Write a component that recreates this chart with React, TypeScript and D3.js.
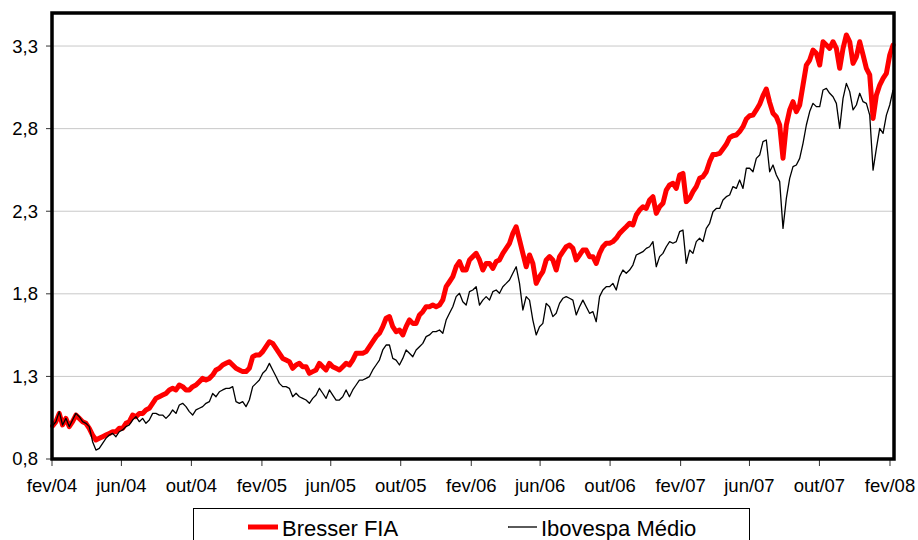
import React from "react";
import * as d3 from "d3";

// Sampling: one reading every ~5.8 days, starting 2 Feb 2004
const startDate = new Date(2004, 1, 2);
const stepDays = 5.815;

const bresserFIA = [
  1.00,1.026,1.076,1.006,1.046,0.996,1.026,1.066,1.046,1.026,
  1.016,0.986,0.945,0.915,0.925,0.935,0.945,0.955,0.965,0.965,
  0.986,0.986,1.016,1.026,1.066,1.056,1.076,1.076,1.097,1.107,
  1.137,1.167,1.177,1.187,1.197,1.218,1.228,1.218,1.248,1.238,
  1.218,1.218,1.238,1.248,1.268,1.288,1.278,1.288,1.308,1.339,
  1.349,1.369,1.379,1.389,1.369,1.349,1.339,1.329,1.329,1.349,
  1.419,1.429,
  1.430,1.450,1.480,1.510,1.500,1.470,1.440,1.409,1.399,1.389,
  1.349,1.369,1.379,1.359,1.359,1.319,1.329,1.339,1.379,1.359,
  1.339,1.379,1.359,1.349,1.339,1.359,1.379,1.369,1.399,1.440,
  1.440,1.440,1.450,1.480,1.510,1.541,1.561,1.601,1.652,1.662,
  1.601,1.571,1.581,1.551,1.601,1.642,1.621,1.621,1.672,1.692,
  1.722,1.722,1.732,1.722,1.732,1.763,1.843,1.873,1.904,1.964,
  1.995,1.944,1.944,
  2.005,2.025,2.045,2.005,1.944,1.984,1.984,1.954,1.995,2.005,
  2.045,2.075,2.106,2.166,2.206,2.126,2.045,1.964,2.035,1.984,
  1.863,1.904,1.934,2.005,2.025,2.005,1.944,2.025,2.055,2.085,
  2.095,2.075,2.005,2.035,2.065,2.065,2.025,2.025,1.984,2.045,
  2.085,2.106,2.106,2.116,2.136,2.166,2.186,2.206,2.227,2.217,
  2.277,2.307,2.327,2.317,2.368,2.388,2.287,2.327,2.348,2.428,
  2.459,2.469,2.438,
  2.519,2.529,2.358,2.378,2.418,2.449,2.499,2.509,2.539,2.600,
  2.644,2.644,2.650,2.677,2.705,2.745,2.757,2.761,2.782,2.812,
  2.858,2.878,2.882,2.913,2.947,3.000,3.040,2.959,2.893,2.872,
  2.822,2.620,2.822,2.913,2.963,2.903,2.943,3.064,3.185,3.215,
  3.276,3.256,3.185,3.326,3.306,3.286,3.326,3.286,3.165,3.286,
  3.367,3.326,3.195,3.235,3.326,3.246,3.165,3.125,2.862,3.003,
  3.064,3.104,3.135,3.246,3.306,
];

const ibovespaMedio = [
  1.00,1.026,1.087,1.006,1.046,0.996,1.036,1.076,1.056,1.026,
  1.016,0.996,0.905,0.854,0.864,0.895,0.925,0.945,0.955,0.935,
  0.965,0.976,0.996,1.006,1.036,1.056,1.026,1.046,1.016,1.036,
  1.076,1.076,1.066,1.066,1.046,1.066,1.097,1.076,1.127,1.137,
  1.117,1.087,1.066,1.097,1.107,1.117,1.137,1.147,1.197,1.177,
  1.207,1.218,1.228,1.228,1.238,1.147,1.137,1.147,1.117,1.157,
  1.238,1.258,
  1.278,1.319,1.339,1.379,1.339,1.299,1.258,1.238,1.238,1.228,
  1.177,1.198,1.177,1.167,1.157,1.137,1.167,1.187,1.228,1.198,
  1.167,1.218,1.187,1.157,1.157,1.177,1.218,1.177,1.218,1.248,
  1.278,1.278,1.288,1.299,1.339,1.369,1.399,1.460,1.490,1.490,
  1.409,1.399,1.369,1.409,1.460,1.440,1.419,1.460,1.480,1.500,
  1.541,1.551,1.571,1.571,1.581,1.561,1.641,1.682,1.722,1.783,
  1.803,1.752,1.732,
  1.813,1.823,1.843,1.732,1.762,1.783,1.762,1.813,1.823,1.803,
  1.843,1.863,1.884,1.924,1.964,1.863,1.702,1.783,1.762,1.641,
  1.551,1.601,1.621,1.742,1.722,1.662,1.682,1.742,1.773,1.783,
  1.773,1.762,1.672,1.722,1.762,1.722,1.682,1.692,1.631,1.783,
  1.823,1.843,1.843,1.863,1.823,1.904,1.944,1.924,1.944,1.974,
  2.035,2.045,2.055,2.075,2.085,2.116,1.964,2.025,2.045,2.085,
  2.116,2.106,2.116,
  2.176,2.186,1.984,2.065,2.045,2.116,2.136,2.116,2.196,2.227,
  2.297,2.317,2.317,2.368,2.388,2.398,2.449,2.438,2.489,2.438,
  2.560,2.560,2.539,2.620,2.640,2.721,2.731,2.539,2.580,2.519,
  2.479,2.196,2.378,2.499,2.570,2.580,2.620,2.711,2.822,2.903,
  2.953,2.933,2.933,3.034,3.044,3.014,2.993,2.953,2.802,2.983,
  3.074,3.024,2.913,2.943,3.014,2.963,2.953,2.882,2.549,2.681,
  2.802,2.771,2.882,2.943,3.034,
];

const yTicks = [0.8, 1.3, 1.8, 2.3, 2.8, 3.3];
const xTickDates = [
  "2004-02-01","2004-06-01","2004-10-01","2005-02-01","2005-06-01","2005-10-01",
  "2006-02-01","2006-06-01","2006-10-01","2007-02-01","2007-06-01","2007-10-01","2008-02-01",
];
const xTickLabels = [
  "fev/04","jun/04","out/04","fev/05","jun/05","out/05",
  "fev/06","jun/06","out/06","fev/07","jun/07","out/07","fev/08",
];
const seriesNames = ["Bresser FIA", "Ibovespa Médio"];

const parse = (s: string) => {
  const [y, m, d] = s.split("-").map(Number);
  return new Date(y, m - 1, d);
};

export default function App() {
  const W = 918, H = 540;
  const left = 52, right = 894, top = 13, bottom = 459;
  const x = d3.scaleTime()
    .domain([new Date(2004, 1, 1), new Date(2008, 1, 8)])
    .range([left, right]);
  const y = d3.scaleLinear().domain([0.8, 3.5]).range([bottom, top]);
  const dates = bresserFIA.map((_, i) => new Date(startDate.getTime() + i * stepDays * 86400000));
  const line = d3.line<number>()
    .x((_, i) => x(dates[i]))
    .y((v) => y(v));
  const fmt = (v: number) => v.toFixed(1).replace(".", ",");
  const font = "'Liberation Sans', Arial, sans-serif";

  return (
    <svg width={W} height={H} style={{ position: "fixed", left: 0, top: 0, background: "#fff" }} fontFamily={font}>
      <rect x={0} y={0} width={W} height={H} fill="#fff" />
      {yTicks.slice(1).map((t) => (
        <line key={t} x1={left} x2={right} y1={y(t)} y2={y(t)} stroke="#c8c8c8" strokeWidth={1} />
      ))}
      {yTicks.map((t) => (
        <g key={"yt" + t}>
          <line x1={left - 6} x2={left} y1={y(t)} y2={y(t)} stroke="#333" strokeWidth={1} />
          <text x={38} y={y(t)} dy="0.35em" textAnchor="end" fontSize={18.5} fill="#000">{fmt(t)}</text>
        </g>
      ))}
      {xTickDates.map((s, i) => {
        const xx = x(parse(s));
        return (
          <g key={s}>
            <line x1={xx} x2={xx} y1={bottom} y2={bottom + 7} stroke="#333" strokeWidth={1} />
            <text x={xx} y={492} textAnchor="middle" fontSize={18.5} fill="#000">{xTickLabels[i]}</text>
          </g>
        );
      })}
      <path d={line(bresserFIA) || ""} fill="none" stroke="#ff0000" strokeWidth={5} strokeLinejoin="round" strokeLinecap="round" />
      <path d={line(ibovespaMedio) || ""} fill="none" stroke="#000" strokeWidth={1.3} strokeLinejoin="round" />
      <rect x={left} y={top} width={right - left} height={bottom - top} fill="none" stroke="#000" strokeWidth={3.5} />
      <g>
        <rect x={193.5} y={508.5} width={556} height={50} fill="#fff" stroke="#000" strokeWidth={1} />
        <line x1={248} x2={278} y1={527} y2={527} stroke="#ff0000" strokeWidth={5} />
        <text x={282} y={536} fontSize={22} fill="#000">{seriesNames[0]}</text>
        <line x1={508} x2={537} y1={527} y2={527} stroke="#000" strokeWidth={1.3} />
        <text x={541} y={536} fontSize={22} fill="#000">{seriesNames[1]}</text>
      </g>
    </svg>
  );
}
